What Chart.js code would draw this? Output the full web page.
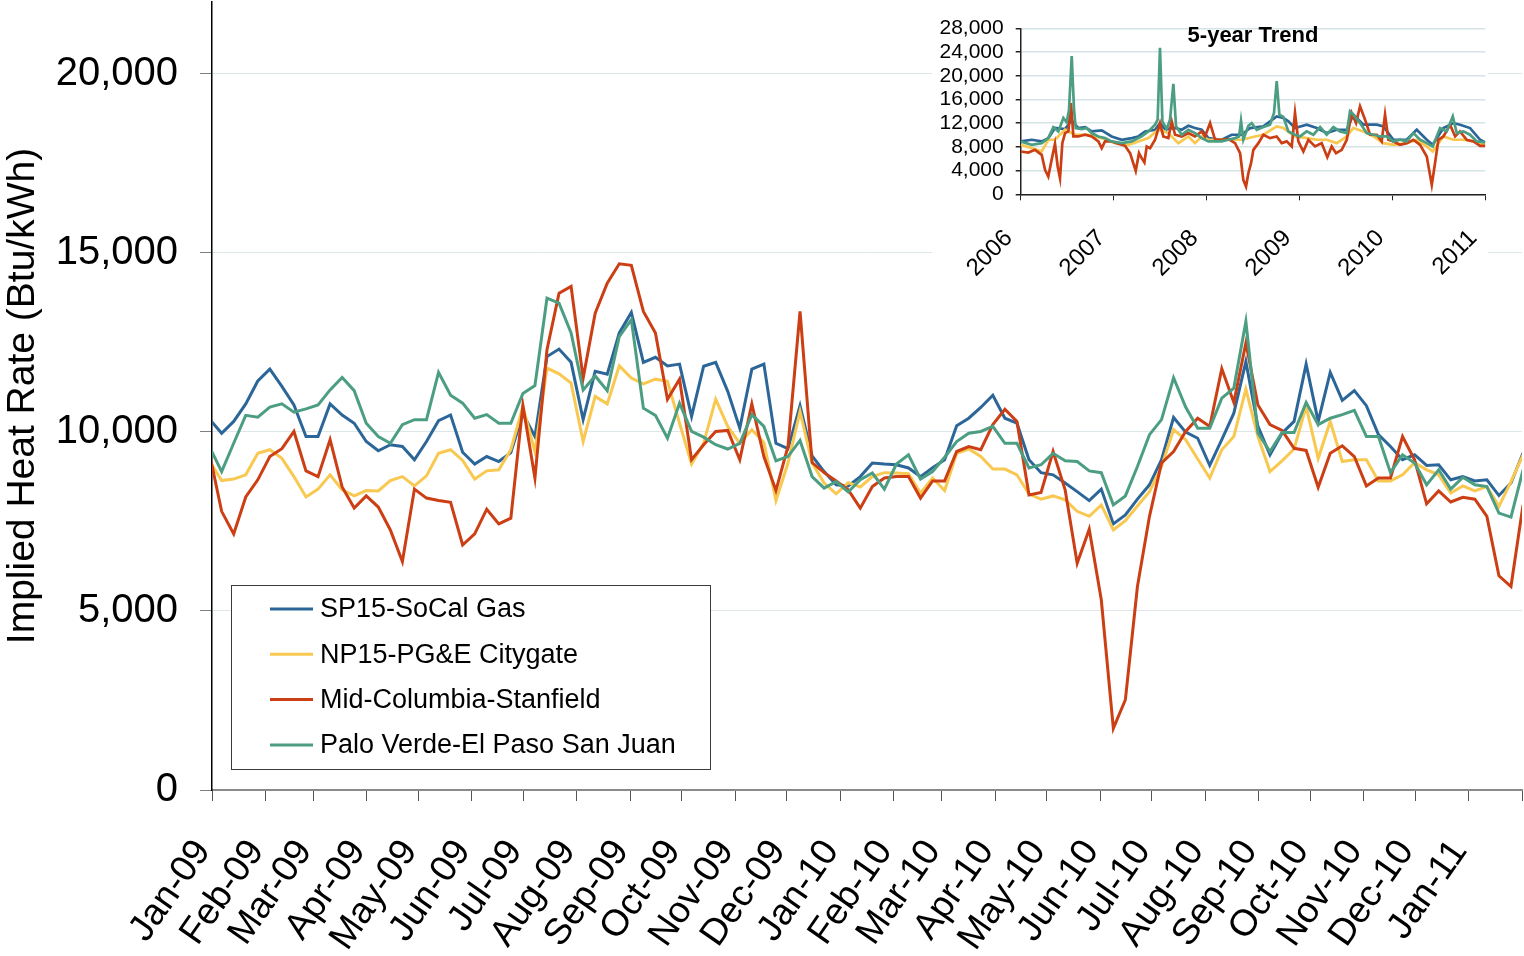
<!DOCTYPE html>
<html>
<head>
<meta charset="utf-8">
<script src="https://cdn.jsdelivr.net/npm/chart.js@4.4.1/dist/chart.umd.min.js"></script>
<style>
html, body { margin: 0; padding: 0; background: #ffffff; }
#wrap { position: relative; width: 1524px; height: 956px; overflow: hidden; }
#main { position: absolute; left: 0; top: 0; }
#insetBox { position: absolute; left: 932px; top: 8px; width: 556px; height: 274px; background: #ffffff; }
</style>
</head>
<body>
<div id="wrap">
  <canvas id="main" width="1524" height="956"></canvas>
  <div id="insetBox"><canvas id="inset" width="556" height="274"></canvas></div>
</div>
<script>
// ---------------- data ----------------
const seriesNames = ['SP15-SoCal Gas', 'NP15-PG&E Citygate', 'Mid-Columbia-Stanfield', 'Palo Verde-El Paso San Juan'];
const seriesColors = ['#2c6698', '#f8c850', '#cc3e14', '#4c9e82'];

const monthLabels = ['Jan-09','Feb-09','Mar-09','Apr-09','May-09','Jun-09','Jul-09','Aug-09','Sep-09','Oct-09','Nov-09','Dec-09',
  'Jan-10','Feb-10','Mar-10','Apr-10','May-10','Jun-10','Jul-10','Aug-10','Sep-10','Oct-10','Nov-10','Dec-10','Jan-11',''];
const yTickValues = [0, 5000, 10000, 15000, 20000];

// weekly implied heat rates (Btu/kWh), first week ends 30-Dec-2008
const sp15 = [10350, 9960,10290,10780,11420,11750,11270,10750, 9870, 9870,10780,10470,10240, 9730, 9470, 9640, 9590, 9220, 9730,10310,10470,
  9430, 9100, 9310, 9170, 9420,10500, 9870,12100,12310,11940,10340,11690,11610,12760,13330,11940,12080,11840,11890,10430,11830,
  11940,11130,10100,11750,11890, 9680, 9530,10730, 9330, 8890, 8520, 8490, 8750, 9130, 9100, 9080, 8990, 8750, 9000, 9220,10170,
  10380,10680,11020,10380,10240, 9220, 8860, 8800, 8570, 8330, 8080, 8400, 7430, 7680, 8120, 8520, 9220,10400, 9990, 9820, 9060,
  9780,10520,11960,10150, 9360, 9960,10290,11890,10290,11660,10880,11150,10730, 9920, 9590, 9220, 9360, 9060, 9080, 8660, 8750,
  8630, 8660, 8220, 8570, 9410];
const np15 = [9180, 8640, 8680, 8800, 9400, 9500, 9260, 8750, 8180, 8400, 8800, 8380, 8210, 8360, 8350, 8640, 8750, 8490, 8770, 9400, 9500,
  9200, 8680, 8910, 8940, 9500,10700, 9450,11780,11620,11360, 9730,10990,10780,11840,11500,11340,11470,11410,10240, 9100, 9680,
  10910,10150, 9680,10060, 9700, 8080, 9130,10570, 9130, 8570, 8270, 8580, 8460, 8750, 8860, 8850, 8830, 8290, 8710, 8360, 9400,
  9520, 9310, 8960, 8960, 8800, 8260, 8120, 8210, 8100, 7780, 7640, 7960, 7260, 7520, 7930, 8330, 9030,10060, 9780, 9240, 8710,
  9500, 9870,11190, 9870, 8890, 9190, 9520,10710, 9260,10290, 9170, 9220, 9220, 8630, 8630, 8800, 9140, 8940, 8800, 8290, 8490,
  8350, 8470, 7920, 8610, 9360];
const midC = [9380, 7780, 7150, 8180, 8660, 9310, 9530,10010, 8910, 8750, 9780, 8460, 7870, 8210, 7900, 7260, 6380, 8400, 8150, 8080, 8030,
  6840, 7150, 7840, 7430, 7590,10740, 8710,12290,13870,14060,11500,13310,14150,14690,14650,13360,12760,10910,11470, 9220, 9640,
  10010,10040, 9220,10780, 9310, 8360, 9590,13360, 9140, 8860, 8630, 8380, 7870, 8470, 8710, 8750, 8750, 8150, 8630, 8630, 9450,
  9590, 9500,10200,10630,10290, 8240, 8310, 9450, 8380, 6330, 7280, 5310, 1720, 2520, 5680, 7640, 9130, 9450,10010,10380,10150,
  11760,10820,12480,10750,10200,10040, 9540, 9480, 8450, 9400, 9610, 9310, 8490, 8710, 8710, 9870, 9220, 7990, 8350, 8040, 8170,
  8120, 7640, 5980, 5680, 7960];
const paloVerde = [9580, 8890, 9680,10460,10410,10690,10780,10550,10640,10750,11170,11520,11150,10240, 9870, 9680,10200,10340,10340,11660,11020,
  10800,10380,10480,10240,10240,11070,11290,13730,13590,12760,11170,11560,11150,12660,13130,10660,10460, 9820,10800,10010, 9850,
  9640, 9520, 9680,10480,10150, 9190, 9310, 9760, 8750, 8430, 8610, 8320, 8660, 8850, 8400, 9100, 9360, 8680, 8890, 9290, 9730,
  9960,10010,10150, 9680, 9680, 8990, 9080, 9400, 9190, 9170, 8910, 8860, 7960, 8210, 9030, 9920,10340,11510,10690,10100,10100,
  10940,11220,13080, 9960, 9450, 9980, 9980,10820,10200,10380,10480,10600, 9870, 9870, 8860, 9360, 9130, 8520, 8940, 8400, 8730,
  8520, 8470, 7730, 7620, 8940];

// 5-year trend inset (decimal year, value)
const insetYearTicks = [2006, 2007, 2008, 2009, 2010, 2011];
const insetYTicks = [0, 4000, 8000, 12000, 16000, 20000, 24000, 28000];

const insetSp15Year = [2006.000,2006.118,2006.226,2006.297,2006.369,2006.477,2006.549,2006.620,2006.692,2006.764,2006.872,2006.979,
  2007.087,2007.195,2007.266,2007.338,2007.446,2007.499,2007.553,2007.661,2007.733,2007.804,2007.876,2007.948,2008.020,2008.163,
  2008.271,2008.379,2008.468,2008.612,2008.755,2008.827,2008.881,2008.952,2009.078,2009.186,2009.293,2009.401,2009.509,2009.580,
  2009.688,2009.760,2009.832,2009.903,2010.011,2010.154,2010.262,2010.370,2010.434,2010.549,2010.657,2010.728,2010.836,2010.944,2011.001];
const insetSp15 = [8930,9210,8930,9490,11190,11020,12500,11190,11350,10620,10790,9770,
  9210,9490,9770,10620,10900,12000,11020,11190,10900,11580,11190,10900,9490,9210,
  10060,10060,11190,11470,13160,12880,12320,11190,11750,11190,10340,10900,10900,13450,
  11750,11750,11750,11470,9210,9210,10900,9210,8360,11190,12030,11750,11190,9210,8760];

const insetNp15Year = [2006.000,2006.118,2006.226,2006.297,2006.369,2006.477,2006.584,2006.728,2006.872,2007.015,2007.159,2007.266,
  2007.374,2007.481,2007.589,2007.697,2007.804,2007.876,2007.948,2008.020,2008.163,2008.271,2008.379,2008.522,2008.612,2008.755,
  2008.827,2008.952,2009.078,2009.186,2009.293,2009.401,2009.509,2009.580,2009.688,2009.796,2009.903,2010.011,2010.154,2010.262,
  2010.370,2010.434,2010.549,2010.657,2010.764,2010.872,2011.001];
const insetNp15 = [8360,7800,7230,9210,9210,10900,10060,10060,9490,8640,8360,8930,
  9490,10900,10340,8640,9770,8640,9770,9210,9210,9210,9210,9770,10060,11470,
  11190,9770,9490,9210,9210,8640,9770,11190,10620,9770,8640,8360,8640,9210,
  8080,7230,9770,9210,9210,8930,8360];

const insetMidCYear = [2006.000,2006.082,2006.154,2006.226,2006.262,2006.297,2006.333,2006.369,2006.398,2006.423,2006.448,2006.477,
  2006.513,2006.541,2006.567,2006.620,2006.692,2006.764,2006.836,2006.872,2006.907,2006.979,2007.051,2007.123,2007.177,2007.238,
  2007.273,2007.302,2007.331,2007.356,2007.392,2007.446,2007.499,2007.535,2007.589,2007.625,2007.661,2007.733,2007.804,2007.876,
  2007.948,2007.984,2008.038,2008.092,2008.163,2008.235,2008.307,2008.361,2008.396,2008.425,2008.450,2008.479,2008.504,2008.558,
  2008.612,2008.683,2008.755,2008.809,2008.863,2008.917,2008.952,2008.988,2009.042,2009.096,2009.168,2009.239,2009.300,2009.347,
  2009.394,2009.455,2009.509,2009.562,2009.609,2009.652,2009.706,2009.760,2009.832,2009.885,2009.921,2009.957,2010.011,2010.083,
  2010.154,2010.226,2010.298,2010.370,2010.424,2010.459,2010.495,2010.549,2010.621,2010.675,2010.728,2010.800,2010.872,2010.944,2011.001];
const insetMidC = [7230,7060,7510,6670,4120,2990,5820,8530,4690,2710,8640,10340,
  10620,15420,9770,9770,10060,9770,8930,7800,8930,8930,8530,8190,6950,3960,
  6950,6100,5370,8080,7800,9210,12030,9770,9490,12320,10060,9770,10340,9770,
  10620,9770,12030,9210,9210,9320,8640,6950,2430,1300,3560,5250,7510,8640,
  10060,9490,9770,8640,8930,8080,13730,8930,7230,9210,8080,8640,6270,8080,
  6950,7510,9210,13730,12030,14860,12600,10060,10060,8930,13450,9210,8930,8360,
  8640,9210,8360,6380,1580,5250,9210,9770,11750,9770,10620,9210,8930,8190,8190];

const insetPaloVerdeYear = [2006.000,2006.118,2006.226,2006.297,2006.351,2006.405,2006.459,2006.495,2006.520,2006.549,2006.574,2006.592,
  2006.656,2006.710,2006.764,2006.836,2006.907,2006.979,2007.087,2007.195,2007.302,2007.374,2007.446,2007.474,2007.499,2007.525,
  2007.571,2007.607,2007.643,2007.672,2007.733,2007.804,2007.876,2007.948,2008.020,2008.092,2008.163,2008.235,2008.307,2008.350,
  2008.371,2008.396,2008.450,2008.486,2008.540,2008.612,2008.683,2008.726,2008.755,2008.784,2008.827,2008.881,2008.952,2009.006,
  2009.078,2009.150,2009.222,2009.293,2009.365,2009.437,2009.509,2009.544,2009.580,2009.652,2009.724,2009.796,2009.867,2009.939,
  2010.011,2010.083,2010.154,2010.226,2010.298,2010.370,2010.434,2010.513,2010.585,2010.650,2010.693,2010.764,2010.836,2010.908,2011.001];
const insetPaloVerde = [8930,8360,8640,9490,11350,10620,12880,12150,14300,23330,14300,11190,
  11000,11190,10340,9770,9490,8930,8640,8930,9770,10620,11750,12600,24750,12320,
  11020,12600,18650,11470,10060,10900,10340,9490,8930,8930,8930,9210,9490,9770,
  12430,9210,11580,12030,10900,11350,11750,13730,19100,13450,13050,10620,10060,9770,
  10620,10060,11350,10060,11350,10620,10340,14010,13450,12030,10340,10060,9770,9770,
  8930,9210,8930,10340,9210,8640,8080,11190,10620,13160,10340,10620,10060,8930,8760];

// ---------------- helpers ----------------
const FONT = "'Liberation Sans', Arial, sans-serif";
const DAY = 86400000;
const day0 = Date.UTC(2009, 0, 1);
const monthDays = monthLabels.map((_, i) => (Date.UTC(2009, i, 1) - day0) / DAY);
const firstWeek = (Date.UTC(2008, 11, 30) - day0) / DAY + 0.6;
const weekDays = sp15.map((_, i) => firstWeek + 7 * i);

const mainSeries = [sp15, np15, midC, paloVerde];
const insetSeries = [[insetSp15Year, insetSp15], [insetNp15Year, insetNp15], [insetMidCYear, insetMidC], [insetPaloVerdeYear, insetPaloVerde]];

const legendPlugin = {
  id: 'boxLegend',
  afterDraw(chart) {
    const c = chart.ctx;
    c.save();
    c.fillStyle = '#ffffff';
    c.fillRect(231.5, 585.5, 479, 184);
    c.strokeStyle = '#3a3a3a';
    c.lineWidth = 1;
    c.strokeRect(231.5, 585.5, 479, 184);
    c.font = '27px ' + FONT;
    c.textBaseline = 'middle';
    chart.data.datasets.forEach((ds, i) => {
      const y = 609 + i * 45.3;
      c.strokeStyle = ds.borderColor;
      c.lineWidth = 3;
      c.beginPath(); c.moveTo(270, y); c.lineTo(313, y); c.stroke();
      c.fillStyle = '#000000';
      c.fillText(ds.label, 320, y + 1);
    });
    c.restore();
  }
};

new Chart(document.getElementById('main'), {
  type: 'line',
  data: {
    datasets: seriesNames.map((name, i) => ({
      label: name,
      data: weekDays.map((d, j) => ({ x: d, y: mainSeries[i][j] })),
      borderColor: seriesColors[i],
      backgroundColor: seriesColors[i],
      borderWidth: 3,
      pointRadius: 0,
      tension: 0,
      fill: false,
      order: 3 - i
    }))
  },
  options: {
    responsive: false,
    animation: false,
    devicePixelRatio: 1,
    layout: { autoPadding: false, padding: { top: 2, right: 2, left: 0, bottom: 0 } },
    plugins: { legend: { display: false }, tooltip: { enabled: false } },
    scales: {
      x: {
        type: 'linear',
        min: 0,
        max: monthDays[monthDays.length - 1],
        afterBuildTicks: s => { s.ticks = monthDays.map(v => ({ value: v })); },
        afterFit: s => { s.height = 166; s.paddingLeft = 0; s.paddingRight = 0; },
        ticks: {
          autoSkip: false, minRotation: 55, maxRotation: 55,
          font: { family: FONT, size: 37 }, color: '#000000', padding: 31, labelOffset: -9,
          callback: (v, i) => monthLabels[i]
        },
        grid: { drawOnChartArea: false, drawTicks: true, tickLength: 11, tickColor: '#555555', tickWidth: 1 },
        border: { color: '#8a8a8a', width: 2 }
      },
      y: {
        min: 0,
        max: 22000,
        afterBuildTicks: s => { s.ticks = yTickValues.map(v => ({ value: v })); },
        afterFit: s => { s.width = 212; s.paddingTop = 0; s.paddingBottom = 0; },
        ticks: {
          autoSkip: false,
          font: { family: FONT, size: 40 }, color: '#000000', padding: 22,
          callback: v => v.toLocaleString('en-US')
        },
        grid: { color: '#dde7ea', lineWidth: 1, drawTicks: true, tickLength: 12, tickColor: '#808080' },
        border: { color: '#000000', width: 1.5 },
        title: { display: true, text: 'Implied Heat Rate (Btu/kWh)', font: { family: FONT, size: 39 }, color: '#000000', padding: { top: 0, bottom: 0 } }
      }
    }
  },
  plugins: [legendPlugin]
});

const insetTitlePlugin = {
  id: 'insetTitle',
  afterDraw(chart) {
    const c = chart.ctx;
    c.save();
    c.font = 'bold 22px ' + FONT;
    c.fillStyle = '#000000';
    c.textAlign = 'center';
    c.textBaseline = 'middle';
    c.fillText('5-year Trend', 321, 28);
    c.restore();
  }
};

new Chart(document.getElementById('inset'), {
  type: 'line',
  data: {
    datasets: seriesNames.map((name, i) => ({
      label: name,
      data: insetSeries[i][0].map((yr, j) => ({ x: yr, y: insetSeries[i][1][j] })),
      borderColor: seriesColors[i],
      borderWidth: 2.7,
      pointRadius: 0,
      tension: 0,
      fill: false,
      order: 3 - i
    }))
  },
  options: {
    responsive: false,
    animation: false,
    devicePixelRatio: 1,
    layout: { autoPadding: false, padding: { top: 20.5, right: 2.7, left: 0, bottom: 0 } },
    plugins: { legend: { display: false }, tooltip: { enabled: false } },
    scales: {
      x: {
        type: 'linear', min: 2006, max: 2011,
        afterBuildTicks: s => { s.ticks = insetYearTicks.map(v => ({ value: v })); },
        afterFit: s => { s.height = 87.7; s.paddingLeft = 0; s.paddingRight = 0; },
        ticks: {
          autoSkip: false, minRotation: 45, maxRotation: 45,
          font: { family: FONT, size: 24 }, color: '#000000', padding: 24, labelOffset: -12,
          callback: (v, i) => String(insetYearTicks[i])
        },
        grid: { drawOnChartArea: false, drawTicks: true, tickLength: 6, tickColor: '#222222' },
        border: { color: '#222222', width: 1.5 }
      },
      y: {
        min: 0, max: 28000,
        afterBuildTicks: s => { s.ticks = insetYTicks.map(v => ({ value: v })); },
        afterFit: s => { s.width = 88.7; s.paddingTop = 0; s.paddingBottom = 0; },
        ticks: {
          autoSkip: false,
          font: { family: FONT, size: 21 }, color: '#000000', padding: 12,
          callback: v => v.toLocaleString('en-US')
        },
        grid: { color: '#d6e4e6', lineWidth: 1.5, drawTicks: true, tickLength: 5, tickColor: '#222222' },
        border: { color: '#222222', width: 1.5 }
      }
    }
  },
  plugins: [insetTitlePlugin]
});
</script>
</body>
</html>
